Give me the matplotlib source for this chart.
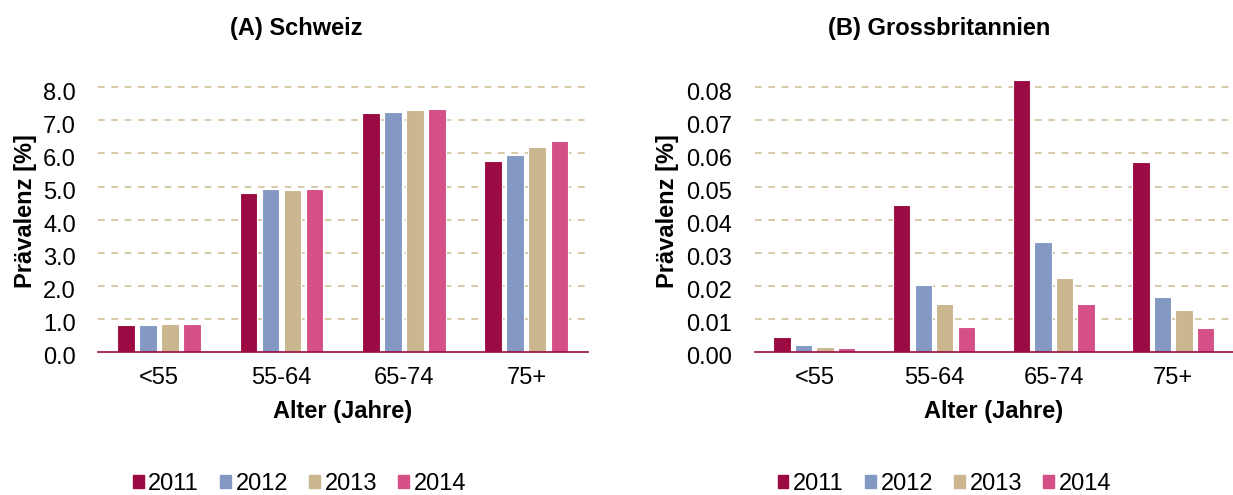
import numpy as np
import matplotlib
matplotlib.use('Agg')
import matplotlib.pyplot as plt
import matplotlib.transforms as mtransforms
from matplotlib.patches import Patch

plt.rcParams['font.family'] = ['Liberation Sans', 'DejaVu Sans']

# data
groups = ['<55', '55-64', '65-74', '75+']
years = ['2011', '2012', '2013', '2014']
colors = ['#9B0A42', '#8498C4', '#CBB78F', '#D45087']

ch = {'2011': [0.81, 4.80, 7.21, 5.76],
      '2012': [0.82, 4.93, 7.26, 5.96],
      '2013': [0.84, 4.91, 7.31, 6.21],
      '2014': [0.85, 4.93, 7.34, 6.38]}
gb = {'2011': [0.0044, 0.0443, 0.0823, 0.0575],
      '2012': [0.0021, 0.0201, 0.0332, 0.0165],
      '2013': [0.0014, 0.0146, 0.0223, 0.0127],
      '2014': [0.0011, 0.0075, 0.0145, 0.0073]}

FS = 17

fig = plt.figure(figsize=(12.33, 4.95), dpi=100)
ax1 = fig.add_axes([0.0795, 0.289, 0.397, 0.568])
ax2 = fig.add_axes([0.612, 0.289, 0.388, 0.568])

def draw(ax, data, ymax, ticks, fmt, ylab_x):
    x = np.arange(len(groups))
    step = 0.18
    for i, y in enumerate(years):
        ax.bar(x + (i - 1.5) * step, data[y], width=0.145, color=colors[i],
               edgecolor='white', linewidth=0.8, zorder=3)
    ax.set_xlim(-0.5, len(groups) - 0.5)
    ax.set_ylim(0, ymax)
    ax.set_yticks(ticks)
    ax.set_yticklabels([fmt % t for t in ticks], fontsize=FS)
    ax.set_xticks(x)
    ax.set_xticklabels(groups, fontsize=FS)
    ax.tick_params(axis='y', length=0, pad=16)
    ax.tick_params(axis='x', length=0, pad=11)
    off = mtransforms.ScaledTranslation(0, -4 / 100, fig.dpi_scale_trans)
    for lab in ax.get_yticklabels():
        lab.set_transform(lab.get_transform() + off)
    for t in ticks[1:]:
        ax.axhline(t, color='#D2C09C', linestyle=(0, (4, 4)), linewidth=1.2, zorder=1)
    for s in ['top', 'right', 'left']:
        ax.spines[s].set_visible(False)
    ax.spines['bottom'].set_color('#9B0A42')
    ax.spines['bottom'].set_linewidth(1.2)
    ax.spines['bottom'].set_zorder(4)
    ax.set_xlabel('Alter (Jahre)', fontsize=FS, fontweight='bold', labelpad=8)
    ax.set_ylabel('Prävalenz [%]', fontsize=FS, fontweight='bold')
    ax.yaxis.set_label_coords(ylab_x, 0.5)

draw(ax1, ch, 8.5, np.arange(0, 8.01, 1.0), '%.1f', -0.124)
draw(ax2, gb, 0.085, np.arange(0, 0.0801, 0.01), '%.2f', -0.157)

fig.text(0.240, 0.943, '(A) Schweiz', fontsize=FS, fontweight='bold', ha='center', va='center')
fig.text(0.762, 0.943, '(B) Grossbritannien', fontsize=FS, fontweight='bold', ha='center', va='center')

handles = [Patch(color=c, label=y) for c, y in zip(colors, years)]
for cx in [0.243, 0.766]:
    fig.legend(handles=handles, loc='center', bbox_to_anchor=(cx, 0.022), ncol=4,
               frameon=False, fontsize=FS, handlelength=0.45, handleheight=0.45,
               handletextpad=0.2, columnspacing=0.9)

fig.savefig('out.png', dpi=100)
